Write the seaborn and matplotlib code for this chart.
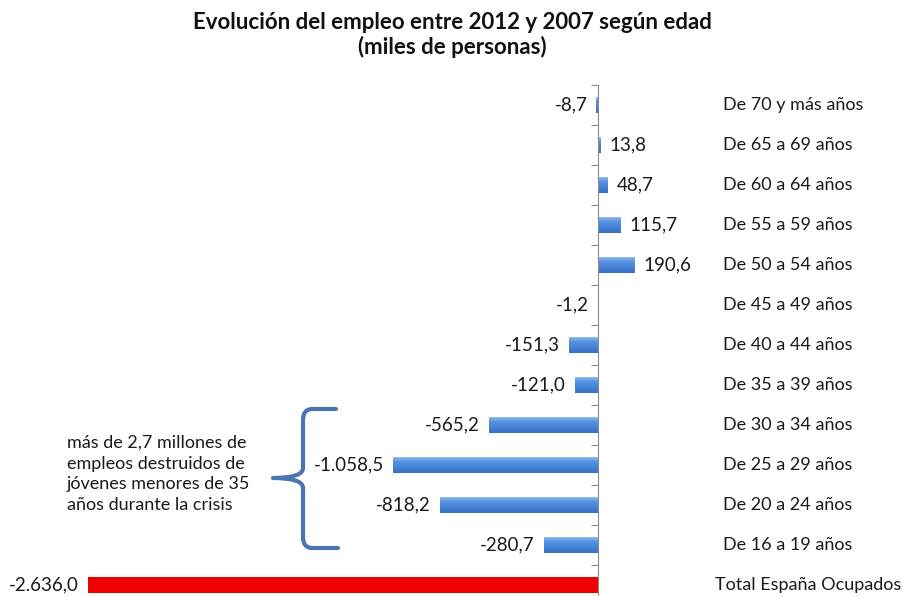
import numpy as np
import pandas as pd
import seaborn as sns
from matplotlib import pyplot as plt
from matplotlib.path import Path
from matplotlib.patches import PathPatch
from matplotlib.colors import LinearSegmentedColormap

grupos = ['De 70 y más años', 'De 65 a 69 años', 'De 60 a 64 años', 'De 55 a 59 años',
          'De 50 a 54 años', 'De 45 a 49 años', 'De 40 a 44 años', 'De 35 a 39 años',
          'De 30 a 34 años', 'De 25 a 29 años', 'De 20 a 24 años', 'De 16 a 19 años',
          'Total España Ocupados']
variacion = [-8.7, 13.8, 48.7, 115.7, 190.6, -1.2, -151.3, -121.0,
             -565.2, -1058.5, -818.2, -280.7, -2636.0]
titulo = 'Evolución del empleo entre 2012 y 2007 según edad\n(miles de personas)'
nota = ('más de 2,7 millones de\nempleos destruidos de\n'
        'jóvenes menores de 35\naños durante la crisis')

AZUL = '#4a88dc'
ROJO = '#ee0000'


def fmt_es(v):
    s = f'{v:,.1f}'
    return s.replace(',', '_').replace('.', ',').replace('_', '.')


sns.set_style('white')
plt.rcParams['font.family'] = ['Lato', 'DejaVu Sans']

df = pd.DataFrame({'grupo': grupos, 'valor': variacion})
colores = {g: (ROJO if g.startswith('Total') else AZUL) for g in grupos}

fig = plt.figure(figsize=(9.05, 5.96), dpi=100)
W, H = 905, 596
x0_px, scale = 598, 510 / 2636
ax = fig.add_axes([88 / W, -9 / H, (W - 88) / W, (605 - 85) / H])

sns.barplot(data=df, y='grupo', x='valor', hue='grupo', palette=colores,
            legend=False, width=0.42, ax=ax, saturation=1, edgecolor='none')

# gradient overlay on the blue bars, like the original spreadsheet style
cmap = LinearSegmentedColormap.from_list('g', ['#9cc2f2', '#5592e2', '#4682d6', '#3a6fc0'])
grad = np.linspace(0, 1, 64).reshape(-1, 1)
for p, g in zip(ax.patches, grupos):
    if g.startswith('Total'):
        continue
    x, y = p.get_x(), p.get_y()
    w, h = p.get_width(), p.get_height()
    im = ax.imshow(grad, cmap=cmap, aspect='auto', extent=(x, x + w, y + h, y),
                   zorder=p.get_zorder() + 0.1)
    im.set_clip_path(p)

ax.set_xlim(-2636, (W - x0_px) / scale)
ax.set_ylim(12.5, -0.5)

for sp in ['top', 'right', 'bottom']:
    ax.spines[sp].set_visible(False)
ax.spines['left'].set_position(('data', 0))
ax.spines['left'].set_color('#8c8c8c')
ax.spines['left'].set_zorder(5)
ax.set_yticks(np.arange(-0.5, 12.5, 1), labels=[])
ax.tick_params(axis='y', direction='out', length=5, color='#8c8c8c', left=True)
ax.set_xticks([])
ax.set_xlabel('')
ax.set_ylabel('')

gap = 9 / scale
for i, (g, v) in enumerate(zip(grupos, variacion)):
    if v < 0:
        ax.text(v - gap, i, fmt_es(v), ha='right', va='center', fontsize=13.5, color='#1a1a1a',
                clip_on=False)
    else:
        ax.text(v + gap, i, fmt_es(v), ha='left', va='center', fontsize=13.5, color='#1a1a1a')
    lx = (723 - x0_px) / scale if not g.startswith('Total') else (715 - x0_px) / scale
    ax.text(lx, i, g, ha='left', va='center', fontsize=13, color='#1a1a1a')

fig.text(0.5, 1 - 35 / H, titulo, ha='center', va='center', fontsize=16,
         fontweight='bold', linespacing=1.2, color='#111111')
fig.text(67 / W, 1 - 474 / H, nota, ha='left', va='center', fontsize=13,
         linespacing=1.38, color='#1a1a1a')

# curly brace grouping the youth rows
def px(xp, yp):
    return ((xp - x0_px) / scale, (yp - 105) / 40)

pts = [(336, 409), (312, 409), (303, 409), (303, 420), (303, 468), (303, 478), (273, 478),
       (303, 478), (303, 488), (303, 537), (303, 548), (312, 548), (338, 548)]
codes = [Path.MOVETO, Path.LINETO, Path.CURVE3, Path.CURVE3, Path.LINETO, Path.CURVE3,
         Path.CURVE3, Path.CURVE3, Path.CURVE3, Path.LINETO, Path.CURVE3, Path.CURVE3,
         Path.LINETO]
brace = Path([px(a, b) for a, b in pts], codes)
ax.add_patch(PathPatch(brace, fill=False, edgecolor='#4a76b0', lw=3, clip_on=False,
                       capstyle='round', joinstyle='round'))

fig.savefig('out.png', dpi=100)
